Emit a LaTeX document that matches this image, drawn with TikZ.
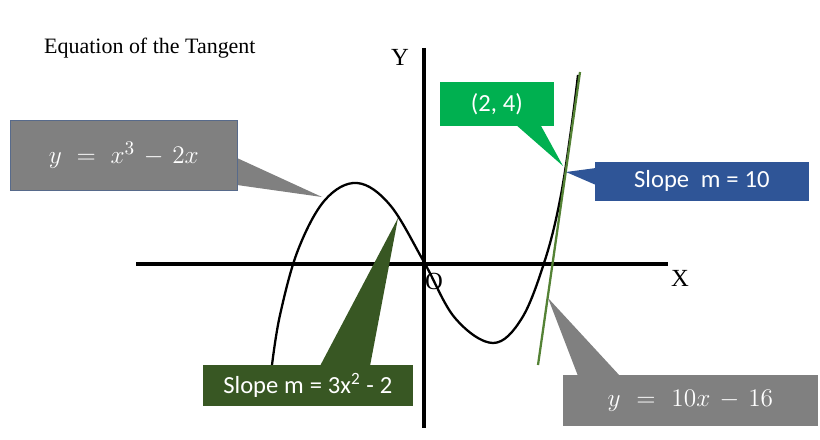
\documentclass[tikz,border=0pt]{standalone}
\usepackage{fontspec}
\setmainfont{Liberation Serif}
\newfontfamily\calfont{Carlito}
\begin{document}
\begin{tikzpicture}[x=0.02cm,y=-0.02cm,
 box/.style={draw=#1, fill=#1, text=white, inner sep=0pt, anchor=north west},
 ptr/.style={fill=#1, draw=none}]
\definecolor{cgray}{RGB}{128,128,128}
\definecolor{cgreen}{RGB}{0,176,80}
\definecolor{cblue}{RGB}{47,85,151}
\definecolor{cdark}{RGB}{56,87,35}
\definecolor{ctan}{RGB}{84,130,53}
\useasboundingbox (0,0) rectangle (820,439);
\node[anchor=west,font=\fontsize{12.5}{14}\selectfont] (title) at (38,48) {Equation of the Tangent};
% axes
\coordinate (yt) at (424,48); \coordinate (yb) at (424,428);
\coordinate (xl) at (136,264); \coordinate (xr) at (668,264);
\draw[line width=2.2pt] (yt) -- (yb);
\draw[line width=2.2pt] (xl) -- (xr);
\node[font=\fontsize{14}{16}\selectfont] (Y) at (400,57) {Y};
\node[font=\fontsize{14}{16}\selectfont] (X) at (680,278) {X};
\node[font=\fontsize{14}{16}\selectfont] (O) at (434,281) {O};
% curve
\draw[line width=1.3pt] plot[smooth,tension=0.6] coordinates {(272,365) (280,315) (298,250) (325,200) (357,183) (390,205) (424,262) (455,318) (493,343) (522,318) (545,260) (560,200) (571,130) (578,75)};
% tangent
\coordinate (ta) at (538,365); \coordinate (tb) at (580,72);
\draw[ctan,line width=1.3pt] (ta) -- (tb);
% callout 1
\fill[cgray] (237,158) -- (322,197) -- (237,185) -- cycle;
\node[box=cgray, draw=cblue!50!gray, text width=4.54cm, minimum height=1.4cm, align=center] (c1) at (10,120) {\fontsize{15}{17}\selectfont $y=x^3-2x$};
% callout 2
\fill[cgreen] (515,124) -- (563,166) -- (540,124) -- cycle;
\node[box=cgreen, text width=2.26cm, minimum height=0.86cm, align=center] (c2) at (440,82) {\calfont\fontsize{14}{16}\selectfont (2, 4)};
% callout 3
\fill[cblue] (596,168) -- (566,172) -- (596,185) -- cycle;
\node[box=cblue, text width=4.26cm, minimum height=0.76cm, align=center] (c3) at (595,162) {\calfont\fontsize{14}{16}\selectfont Slope\ \ m = 10};
% callout 4
\fill[cdark] (320,366) -- (398,218) -- (370,366) -- cycle;
\node[box=cdark, text width=4.18cm, minimum height=0.8cm, align=center] (c4) at (203,365) {\calfont\fontsize{14}{16}\selectfont Slope m = 3x\textsuperscript{2} - 2};
% callout 5
\fill[cgray] (578,376) -- (548,298) -- (620,376) -- cycle;
\node[box=cgray, text width=5.08cm, minimum height=1.0cm, align=center] (c5) at (563,375) {\fontsize{15}{17}\selectfont $y=10x-16$};
\end{tikzpicture}
\end{document}
